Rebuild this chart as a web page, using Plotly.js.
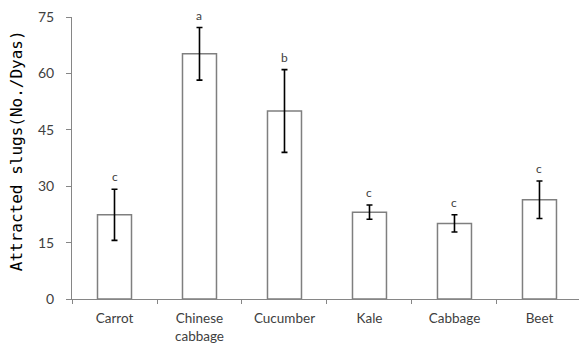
<!DOCTYPE html>
<html>
<head>
<meta charset="utf-8">
<script src="https://cdn.plot.ly/plotly-3.0.1.min.js"></script>
<style>html,body{margin:0;padding:0;background:#fff;}#chart{width:579px;height:346px;}</style>
</head>
<body>
<div id="chart"></div>
<script>
const categories = ["Carrot", "Chinese<br>cabbage", "Cucumber", "Kale", "Cabbage", "Beet"];
const means = [22.4, 65.2, 50.0, 23.1, 20.1, 26.4];
const errors = [6.8, 7.0, 11.0, 1.9, 2.3, 5.0];
const letters = ["c", "a", "b", "c", "c", "c"];
const yTicks = [0, 15, 30, 45, 60, 75];
const yTitle = "Attracted slugs(No./Dyas)";

const trace = {
  type: "bar",
  x: categories,
  y: means,
  width: 0.4,
  marker: {color: "#ffffff", line: {color: "#7f7f7f", width: 1.5}},
  error_y: {type: "data", array: errors, visible: true, color: "#000000", thickness: 1.6, width: 3},
  hoverinfo: "none"
};

const annotations = categories.map((c, i) => ({
  x: c, y: means[i] + errors[i], xref: "x", yref: "y",
  text: letters[i], showarrow: false, yanchor: "bottom", yshift: 3,
  font: {family: "Lato, sans-serif", size: 12, color: "#404040"}
}));
annotations.push({
  xref: "paper", yref: "paper", x: -0.108, y: 0.525,
  xanchor: "center", yanchor: "middle", textangle: -90, showarrow: false,
  text: yTitle,
  font: {family: "DejaVu Sans Mono, monospace", size: 16, color: "#000000"}
});

const layout = {
  width: 579, height: 346,
  margin: {l: 72, r: 0, t: 17, b: 47},
  paper_bgcolor: "#ffffff", plot_bgcolor: "#ffffff",
  showlegend: false,
  xaxis: {
    type: "category",
    range: [-0.5, 5.465],
    showline: true, linecolor: "#868686", linewidth: 1,
    ticks: "outside", tickson: "boundaries", ticklen: 4, tickcolor: "#868686",
    ticklabelstandoff: 7,
    showgrid: false, zeroline: false,
    tickfont: {family: "Lato, sans-serif", size: 13.5, color: "#404040"}
  },
  yaxis: {
    range: [0, 75],
    tickvals: yTicks,
    showline: true, linecolor: "#868686", linewidth: 1,
    ticks: "outside", ticklen: 5, tickcolor: "#868686",
    ticklabelstandoff: 9,
    showgrid: false, zeroline: false,
    tickfont: {family: "Lato, sans-serif", size: 14, color: "#404040"}
  },
  annotations: annotations
};

Plotly.newPlot("chart", [trace], layout, {staticPlot: true, displayModeBar: false});
</script>
</body>
</html>
